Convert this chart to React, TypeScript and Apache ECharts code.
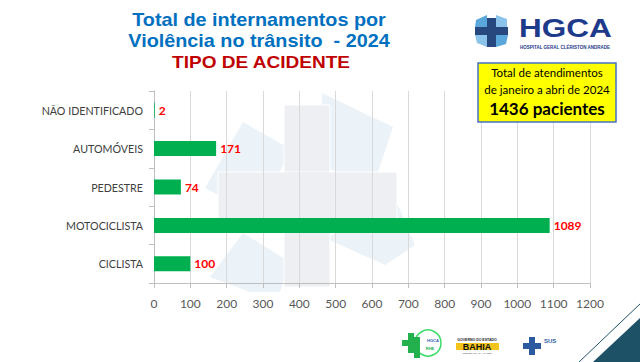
import React, { useEffect, useRef } from "react";
import * as echarts from "echarts";

const categories = ["NÃO IDENTIFICADO", "AUTOMÓVEIS", "PEDESTRE", "MOTOCICLISTA", "CICLISTA"];
const values = [2, 171, 74, 1089, 100];
const titleLines = ["Total de internamentos por", "Violência no trânsito  - 2024"];
const subtitle = "TIPO DE ACIDENTE";
const boxLines = ["Total de atendimentos", "de janeiro a abri de 2024", "1436 pacientes"];
const xMin = 0;
const xMax = 1200;
const xInterval = 100;

export default function App() {
  const ref = useRef<HTMLDivElement>(null);
  useEffect(() => {
    if (!ref.current) return;
    const chart = echarts.init(ref.current, null, { renderer: "svg" });
    const wm = "#ebf3f8";
    const cross = "#edeff3";
    const fg: any[] = [
      // titles
      { type: "text", x: 259, y: 29, scaleX: 1.1, style: { text: titleLines[0], x: 0, y: 0, textAlign: "center", textVerticalAlign: "bottom", fill: "#0070C0", font: "bold 18px 'Liberation Sans', Arial, sans-serif" } },
      { type: "text", x: 259, y: 50, scaleX: 1.1, style: { text: titleLines[1], x: 0, y: 0, textAlign: "center", textVerticalAlign: "bottom", fill: "#0070C0", font: "bold 18px 'Liberation Sans', Arial, sans-serif" } },
      { type: "text", x: 261, y: 71, scaleX: 1.12, style: { text: subtitle, x: 0, y: 0, textAlign: "center", textVerticalAlign: "bottom", fill: "#C00000", font: "bold 17px 'Liberation Sans', Arial, sans-serif" } },
      // HGCA logo: pinwheel
      { type: "polygon", shape: { points: [[476, 20], [487, 15], [487, 27], [475, 27]] }, style: { fill: "#5aa7dc" } },
      { type: "polygon", shape: { points: [[496, 15], [507, 19], [507, 27], [496, 27]] }, style: { fill: "#8cc3ea" } },
      { type: "polygon", shape: { points: [[496, 35], [508, 35], [506, 44], [496, 47]] }, style: { fill: "#5aa7dc" } },
      { type: "polygon", shape: { points: [[475, 35], [487, 35], [487, 47], [477, 43]] }, style: { fill: "#8cc3ea" } },
      { type: "rect", shape: { x: 487, y: 18, width: 9, height: 29 }, style: { fill: "#27477f" } },
      { type: "rect", shape: { x: 475, y: 27, width: 33, height: 8 }, style: { fill: "#27477f" } },
      { type: "text", x: 519, y: 41, scaleX: 1.26, style: { text: "HGCA", x: 0, y: 0, textVerticalAlign: "bottom", fill: "#1e3a8a", font: "bold 25px 'Liberation Sans', Arial, sans-serif" } },
      { type: "text", style: { text: "HOSPITAL GERAL CLÉRISTON ANDRADE", x: 565, y: 47, textAlign: "center", textVerticalAlign: "middle", fill: "#1e3a8a", font: "bold 4.5px 'Liberation Sans', Arial, sans-serif" } },
      // yellow box
      { type: "rect", shape: { x: 478, y: 63, width: 138, height: 59 }, style: { fill: "#FFFF00", stroke: "#4472C4", lineWidth: 1.5 } },
      { type: "text", style: { text: boxLines[0], x: 547, y: 72, textAlign: "center", textVerticalAlign: "middle", fill: "#000000", font: "11.5px Lato, sans-serif" } },
      { type: "text", style: { text: boxLines[1], x: 547, y: 89, textAlign: "center", textVerticalAlign: "middle", fill: "#000000", font: "11.5px Lato, sans-serif" } },
      { type: "text", style: { text: boxLines[2], x: 547, y: 108, textAlign: "center", textVerticalAlign: "middle", fill: "#000000", font: "bold 17px Lato, sans-serif" } },
      // bottom logos
      { type: "rect", shape: { x: 408, y: 333, width: 6, height: 20 }, style: { fill: "#22b14c" } },
      { type: "rect", shape: { x: 402, y: 340, width: 18, height: 6 }, style: { fill: "#22b14c" } },
      { type: "circle", shape: { cx: 428, cy: 343, r: 13 }, style: { fill: "#ffffff", stroke: "#3ddc6b", lineWidth: 1.5 } },
      { type: "rect", shape: { x: 414, y: 337, width: 6, height: 21 }, style: { fill: "#22b14c" } },
      { type: "text", style: { text: "HGCA", x: 433, y: 340, textAlign: "center", textVerticalAlign: "middle", fill: "#1e5fb0", font: "bold 4px sans-serif" } },
      { type: "text", style: { text: "RHE", x: 430, y: 348, textAlign: "center", textVerticalAlign: "middle", fill: "#22b14c", font: "bold 4px sans-serif" } },
      { type: "text", style: { text: "GOVERNO DO ESTADO", x: 477, y: 340, textAlign: "center", textVerticalAlign: "middle", fill: "#222", font: "bold 3.5px sans-serif" } },
      { type: "rect", shape: { x: 456, y: 343, width: 43, height: 7 }, style: { fill: "#f3c51c" } },
      { type: "text", style: { text: "BAHIA", x: 477, y: 347, textAlign: "center", textVerticalAlign: "middle", fill: "#111", font: "bold 9px 'Liberation Sans', sans-serif" } },
      { type: "text", style: { text: "SECRETARIA DA SAÚDE", x: 477, y: 353, textAlign: "center", textVerticalAlign: "middle", fill: "#555", font: "2.5px sans-serif" } },
      { type: "rect", shape: { x: 529, y: 337, width: 6, height: 18 }, style: { fill: "#2c5aa0" } },
      { type: "rect", shape: { x: 523, y: 343, width: 18, height: 6 }, style: { fill: "#2c5aa0" } },
      { type: "text", style: { text: "SUS", x: 544, y: 341, textVerticalAlign: "middle", fill: "#2c5aa0", font: "bold 6px sans-serif" } },
      // corner
      { type: "line", shape: { x1: 578, y1: 363, x2: 641, y2: 303 }, style: { stroke: "#1d5266", lineWidth: 1 } },
      { type: "polygon", shape: { points: [[593, 362], [640, 318], [640, 362]] }, style: { fill: "#1d5266" } },
    ].map((g) => ({ ...g, z: 100 }));
    const bg: any[] = [
      { type: "polygon", shape: { points: [[243, 122], [292, 150], [255, 215], [205, 188]] }, style: { fill: wm } },
      { type: "polygon", shape: { points: [[322, 93], [393, 127], [373, 187], [320, 165]] }, style: { fill: wm } },
      { type: "polygon", shape: { points: [[398, 205], [415, 245], [385, 265], [325, 238]] }, style: { fill: wm } },
      { type: "polygon", shape: { points: [[243, 233], [290, 262], [280, 292], [250, 292], [210, 277]] }, style: { fill: wm } },
      { type: "rect", shape: { x: 284, y: 105, width: 46, height: 182 }, style: { fill: cross, stroke: "#ffffff", lineWidth: 1 } },
      { type: "rect", shape: { x: 218, y: 172, width: 179, height: 55 }, style: { fill: cross, stroke: "#ffffff", lineWidth: 1 } },
      { type: "rect", shape: { x: 285, y: 172, width: 44, height: 55 }, style: { fill: cross } },
    ].map((g) => ({ ...g, z: -5 }));

    chart.setOption({
      animation: false,
      backgroundColor: "#ffffff",
      grid: { left: 154, right: 50, top: 91, bottom: 79, containLabel: false },
      xAxis: {
        type: "value",
        min: xMin,
        max: xMax,
        interval: xInterval,
        axisLine: { show: true, lineStyle: { color: "#bfbfbf" } },
        axisTick: { show: true, length: 5, lineStyle: { color: "#bfbfbf" } },
        splitLine: { show: true, lineStyle: { color: "#d9d9d9" } },
        axisLabel: { color: "#595959", fontSize: 12, fontFamily: "Lato, sans-serif", margin: 14, formatter: (v: number) => String(v) },
      },
      yAxis: {
        type: "category",
        inverse: true,
        data: categories,
        axisLine: { show: true, lineStyle: { color: "#bfbfbf" } },
        axisTick: { show: true, length: 5, lineStyle: { color: "#bfbfbf" } },
        axisLabel: { color: "#404040", fontSize: 10.7, fontFamily: "Lato, sans-serif", margin: 11 },
      },
      series: [
        {
          type: "bar",
          data: values,
          barWidth: 15,
          itemStyle: { color: "#00B050" },
          label: {
            show: true,
            position: "right",
            distance: 4,
            color: "#FF0000",
            fontWeight: "bold",
            fontSize: 12,
            fontFamily: "Lato, sans-serif",
          },
        },
      ],
      graphic: [...bg, ...fg],
    });
    return () => chart.dispose();
  }, []);
  return (
    <div style={{ position: "fixed", left: 0, top: 0, width: 640, height: 362, background: "#fff" }}>
      <div ref={ref} style={{ width: 640, height: 362 }} />
    </div>
  );
}
